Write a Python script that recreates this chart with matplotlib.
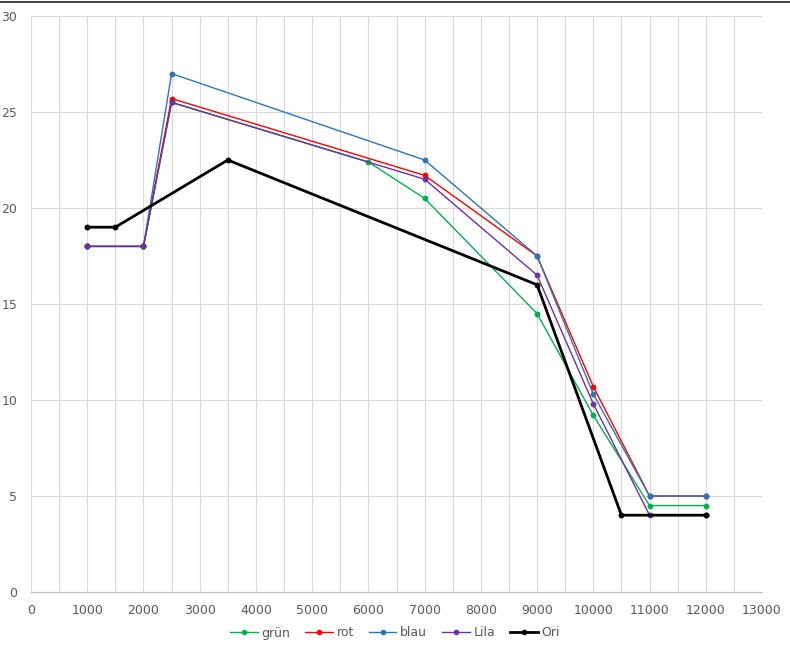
import matplotlib.pyplot as plt
from matplotlib.lines import Line2D

# data
gruen_x = [1000, 2000, 2500, 6000, 7000, 9000, 10000, 11000, 12000]
gruen_y = [18, 18, 25.5, 22.4, 20.5, 14.5, 9.2, 4.5, 4.5]

rot_x = [1000, 2000, 2500, 7000, 9000, 10000, 11000, 12000]
rot_y = [18, 18, 25.7, 21.7, 17.5, 10.7, 5, 5]

blau_x = [1000, 2000, 2500, 7000, 9000, 10000, 11000, 12000]
blau_y = [18, 18, 27, 22.5, 17.5, 10.3, 5, 5]

lila_x = [1000, 2000, 2500, 7000, 9000, 10000, 11000, 12000]
lila_y = [18, 18, 25.5, 21.5, 16.5, 9.8, 4, 4]

ori_x = [1000, 1500, 3500, 9000, 10500, 12000]
ori_y = [19, 19, 22.5, 16, 4, 4]

series = [
    ("grün", gruen_x, gruen_y, "#00B050", 1.0),
    ("rot", rot_x, rot_y, "#FF0000", 1.0),
    ("blau", blau_x, blau_y, "#2E75B6", 1.0),
    ("Lila", lila_x, lila_y, "#7030A0", 1.0),
    ("Ori", ori_x, ori_y, "#000000", 2.0),
]

fig = plt.figure(figsize=(7.9, 6.54), dpi=100)
ax = fig.add_axes([31 / 790, 1 - 592 / 654, (762 - 31) / 790, (592 - 16) / 654])

for name, xs, ys, col, lw in series:
    ax.plot(xs, ys, color=col, lw=lw, marker="o", ms=3.2, label=name)

ax.set_xlim(0, 13000)
ax.set_ylim(0, 30)
ax.set_xticks(range(0, 13001, 1000))
ax.set_xticks(range(500, 13000, 1000), minor=True)
ax.set_yticks(range(0, 31, 5))
ax.grid(which="both", color="#D9D9D9", lw=0.8)
ax.set_axisbelow(True)
for s in ["top", "right", "left"]:
    ax.spines[s].set_visible(False)
ax.spines["bottom"].set_color("#BFBFBF")
ax.tick_params(which="both", length=0, labelsize=9, colors="#595959")
ax.tick_params(axis="x", pad=9)
ax.tick_params(axis="y", pad=10)

handles = [Line2D([], [], color=c, lw=lw, marker="o", ms=3) for _, _, _, c, lw in series]
fig.legend(handles, [s[0] for s in series], loc="center", bbox_to_anchor=(0.5, 1 - 633 / 654),
           ncol=5, frameon=False, fontsize=9, handlelength=2.2, columnspacing=1.2,
           handletextpad=0.3, labelcolor="#595959")

fig.add_artist(Line2D([0, 1], [1 - 2 / 654, 1 - 2 / 654], color="#222222", lw=1.2,
                      transform=fig.transFigure))

fig.savefig("out.png", dpi=100)
